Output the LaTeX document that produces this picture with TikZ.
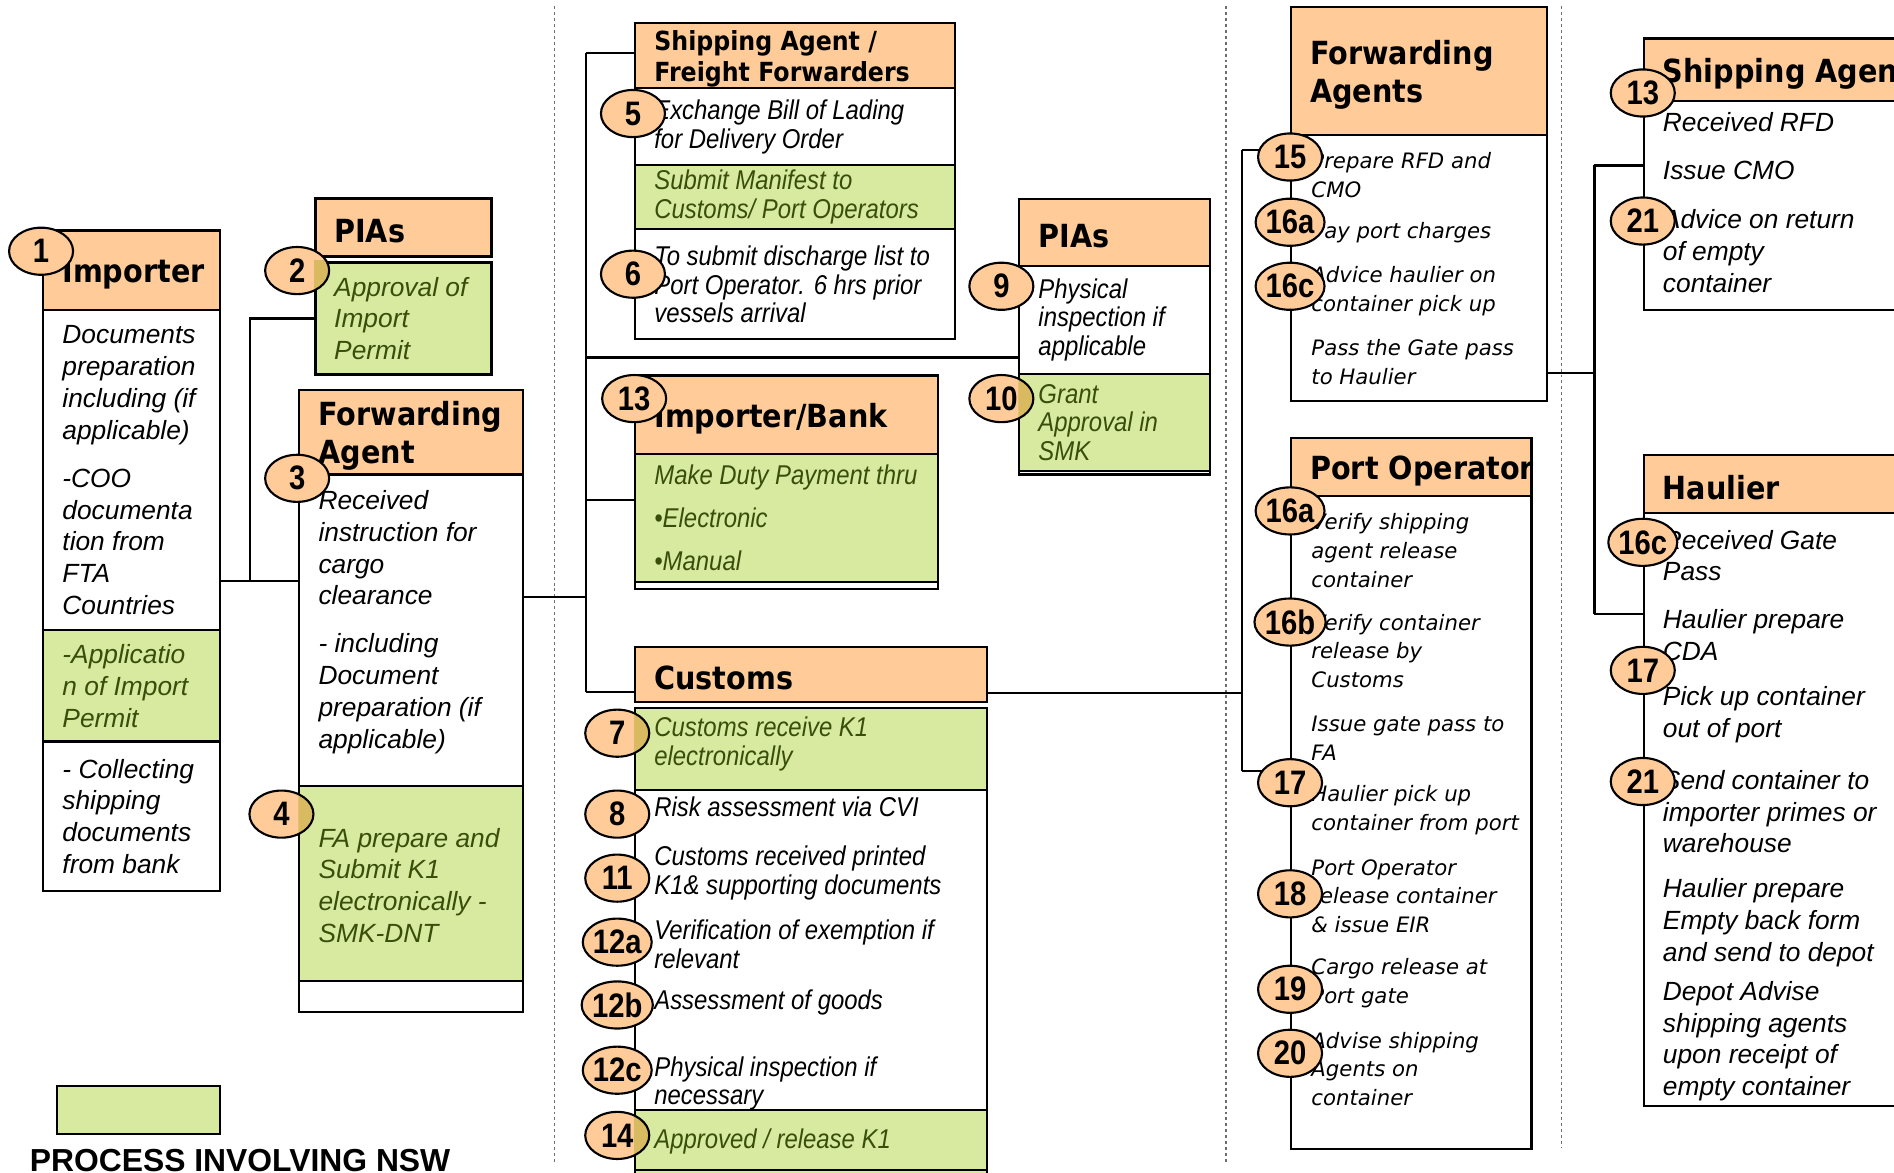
\documentclass[tikz,border=0pt]{standalone}
\usepackage{fontspec}
\setmainfont{Liberation Sans}
\newfontfamily\hdfont[FakeStretch=0.9]{DejaVu Sans}
\newfontfamily\widefont{DejaVu Sans}
\newfontfamily\narrowfont[FakeStretch=0.88]{Liberation Sans}
\newfontfamily\numfont[FakeStretch=0.86]{Liberation Sans}
\usepackage{tikz}
\usetikzlibrary{positioning,shapes.geometric}
\definecolor{hdrorange}{RGB}{255,204,153}
\definecolor{nswgreen}{RGB}{216,234,160}
\definecolor{nswtext}{RGB}{58,78,12}
\definecolor{sepgray}{RGB}{110,110,110}
\newcommand\bodytext{\fontsize{6.2}{7.5}\selectfont\itshape}
\newcommand\narrowtext{\narrowfont\fontsize{6.4}{6.8}\selectfont\itshape}
\newcommand\widetext{\widefont\fontsize{5}{6.8}\selectfont\itshape}

\begin{document}
\begin{tikzpicture}[x=1cm, y=-1cm,
        box/.style={rectangle, draw, fill=white, anchor=north west, inner sep=0pt, line width=0.5pt},
        hdr/.style={box, fill=hdrorange},
        nsw/.style={box, fill=nswgreen},
        hdrtext/.style={inner sep=0pt, align=left, yshift=-0.03cm, font=\hdfont\bfseries\fontsize{7.5}{9.1}\selectfont},
        item/.style={anchor=west, inner sep=0pt, align=left, font=\bodytext},
        nswitem/.style={item, text=nswtext},
        num/.style={ellipse, draw, fill=hdrorange, minimum width=0.53cm, minimum height=0.39cm,
                    inner sep=0pt, line width=0.5pt, font=\numfont\bfseries\fontsize{8}{8}\selectfont},
        overlap/.style={fill=nswgreen, blend mode=multiply},
        link/.style={line width=0.5pt},
        sep/.style={draw=sepgray, line width=0.3pt, dash pattern=on 0.7pt off 0.7pt}
    ]
        \useasboundingbox (0,0) rectangle (15.68,9.71);
        \clip (0,0) rectangle (15.68,9.71);

        % Dotted column separators
        \draw[sep] (4.59,0.05) -- (4.59,9.62);
        \draw[sep] (10.15,0.05) -- (10.15,9.62);
        \draw[sep] (12.93,0.05) -- (12.93,9.50);

        % Importer
        \node[hdr, minimum width=1.46cm, minimum height=0.66cm] (imp) at (0.35,1.90) {};
        \node[hdrtext, right=0.16cm of imp.west] (imp-t) {Importer};
        \node[box, minimum width=1.46cm, minimum height=2.65cm] (imp-a) at (0.35,2.56) {};
        \node[item, right=0.16cm of imp-a.west] (imp-a-t) {Documents\\preparation\\including (if\\applicable)\\[3.8pt]-COO\\documenta\\tion from\\FTA\\Countries};
        \node[nsw, minimum width=1.46cm, minimum height=0.92cm] (imp-b) at (0.35,5.21) {};
        \node[nswitem, right=0.16cm of imp-b.west] (imp-b-t) {-Applicatio\\n of Import\\Permit};
        \node[box, minimum width=1.46cm, minimum height=1.24cm] (imp-c) at (0.35,6.13) {};
        \node[item, right=0.16cm of imp-c.west] (imp-c-t) {- Collecting\\shipping\\documents\\from bank};

        % PIAs (approval)
        \node[hdr, line width=0.7pt, minimum width=1.46cm, minimum height=0.48cm] (pia1) at (2.60,1.63) {};
        \node[hdrtext, right=0.16cm of pia1.west] (pia1-t) {PIAs};
        \node[nsw, line width=0.7pt, minimum width=1.46cm, minimum height=0.93cm] (pia1-a) at (2.60,2.16) {};
        \node[nswitem, right=0.16cm of pia1-a.west] (pia1-a-t) {Approval of\\Import\\Permit};

        % Forwarding Agent
        \node[hdr, minimum width=1.85cm, minimum height=0.70cm] (fa) at (2.47,3.22) {};
        \node[hdrtext, right=0.16cm of fa.west] (fa-t) {Forwarding\\Agent};
        \node[box, minimum width=1.85cm, minimum height=2.58cm] (fa-a) at (2.47,3.92) {};
        \node[item] (fa-a-t) at (2.63,5.15) {Received\\instruction for\\cargo\\clearance\\[3.8pt]- including\\Document\\preparation (if\\applicable)};
        \node[nsw, minimum width=1.85cm, minimum height=1.61cm] (fa-b) at (2.47,6.50) {};
        \node[nswitem] (fa-b-t) at (2.63,7.33) {FA prepare and\\Submit K1\\electronically -\\SMK-DNT};
        \node[box, minimum width=1.85cm, minimum height=0.26cm] (fa-c) at (2.47,8.11) {};

        % Shipping Agent / Freight Forwarders
        \node[hdr, minimum width=2.65cm, minimum height=0.54cm] (sa) at (5.25,0.18) {};
        \node[hdrtext, font=\hdfont\bfseries\fontsize{6.2}{7.4}\selectfont, right=0.16cm of sa.west] (sa-t) {Shipping Agent /\\Freight Forwarders};
        \node[box, minimum width=2.65cm, minimum height=0.64cm] (sa-a) at (5.25,0.72) {};
        \node[item, font=\narrowtext, right=0.16cm of sa-a.west] (sa-a-t) {Exchange Bill of Lading\\for Delivery Order};
        \node[nsw, minimum width=2.65cm, minimum height=0.53cm] (sa-b) at (5.25,1.36) {};
        \node[nswitem, font=\narrowtext, right=0.16cm of sa-b.west] (sa-b-t) {Submit Manifest to\\Customs/ Port Operators};
        \node[box, minimum width=2.65cm, minimum height=0.91cm] (sa-c) at (5.25,1.89) {};
        \node[item, font=\narrowtext, right=0.16cm of sa-c.west] (sa-c-t) {To submit discharge list to\\Port Operator. 6 hrs prior\\vessels arrival};

        % Importer/Bank
        \node[hdr, minimum width=2.51cm, minimum height=0.65cm] (ib) at (5.25,3.10) {};
        \node[hdrtext, right=0.16cm of ib.west] (ib-t) {Importer/Bank};
        \node[nsw, minimum width=2.51cm, minimum height=1.06cm] (ib-a) at (5.25,3.75) {};
        \node[nswitem, font=\narrowtext, right=0.16cm of ib-a.west] (ib-a-t) {Make Duty Payment thru\\[3.3pt]\textbullet Electronic\\[3.3pt]\textbullet Manual};
        \node[box, minimum width=2.51cm, minimum height=0.06cm] (ib-b) at (5.25,4.81) {};

        % Customs
        \node[hdr, minimum width=2.91cm, minimum height=0.45cm] (cu) at (5.25,5.35) {};
        \node[hdrtext, right=0.16cm of cu.west] (cu-t) {Customs};
        \node[nsw, minimum width=2.91cm, minimum height=0.68cm] (cu-a) at (5.25,5.85) {};
        \node[nswitem, font=\narrowtext] (cu-a-t) at (5.41,6.16) {Customs receive K1\\electronically};
        \node[box, minimum width=2.91cm, minimum height=2.65cm] (cu-b) at (5.25,6.53) {};
        \node[item, font=\narrowtext] (cu-risk) at (5.41,6.68) {Risk assessment via CVI};
        \node[item, font=\narrowtext] (cu-print) at (5.41,7.23) {Customs received printed\\K1\& supporting documents};
        \node[item, font=\narrowtext] (cu-exempt) at (5.41,7.82) {Verification of exemption if\\relevant};
        \node[item, font=\narrowtext] (cu-assess) at (5.41,8.30) {Assessment of goods};
        \node[item, font=\narrowtext] (cu-phys) at (5.41,8.97) {Physical inspection if\\necessary};
        \node[nsw, minimum width=2.91cm, minimum height=0.50cm] (cu-c) at (5.25,9.18) {};
        \node[nswitem, font=\narrowtext] (cu-c-t) at (5.41,9.45) {Approved / release K1};
        \node[nsw, minimum width=2.91cm, minimum height=0.30cm] (cu-d) at (5.25,9.68) {};

        % PIAs (inspection)
        \node[hdr, minimum width=1.58cm, minimum height=0.55cm] (pia2) at (8.43,1.64) {};
        \node[hdrtext, right=0.16cm of pia2.west] (pia2-t) {PIAs};
        \node[box, minimum width=1.58cm, minimum height=0.90cm] (pia2-a) at (8.43,2.19) {};
        \node[item, font=\narrowtext, right=0.16cm of pia2-a.west] (pia2-a-t) {Physical\\inspection if\\applicable};
        \node[nsw, minimum width=1.58cm, minimum height=0.80cm] (pia2-b) at (8.43,3.09) {};
        \node[nswitem, font=\narrowtext, right=0.16cm of pia2-b.west] (pia2-b-t) {Grant\\Approval in\\SMK};
        \node[box, minimum width=1.58cm, minimum height=0.03cm] (pia2-c) at (8.43,3.89) {};

        % Forwarding Agents
        \node[hdr, minimum width=2.12cm, minimum height=1.06cm] (fas) at (10.68,0.05) {};
        \node[hdrtext, right=0.16cm of fas.west] (fas-t) {Forwarding\\Agents};
        \node[box, minimum width=2.12cm, minimum height=2.20cm] (fas-a) at (10.68,1.11) {};
        \node[item, font=\widetext] (fas-rfd) at (10.85,1.45) {Prepare RFD and\\CMO};
        \node[item, font=\widetext] (fas-pay) at (10.85,1.93) {Pay port charges};
        \node[item, font=\widetext] (fas-adv) at (10.85,2.41) {Advice haulier on\\container pick up};
        \node[item, font=\widetext] (fas-gate) at (10.85,3.00) {Pass the Gate pass\\to Haulier};

        % Port Operator
        \node[hdr, minimum width=1.99cm, minimum height=0.48cm] (po) at (10.68,3.62) {};
        \node[hdrtext, right=0.16cm of po.west] (po-t) {Port Operator};
        \node[box, minimum width=1.99cm, minimum height=5.40cm] (po-a) at (10.68,4.10) {};
        \node[item, font=\widetext] (po-ship) at (10.85,4.56) {Verify shipping\\agent release\\container};
        \node[item, font=\widetext] (po-cust) at (10.85,5.39) {Verify container\\release by\\Customs};
        \node[item, font=\widetext] (po-gate) at (10.85,6.11) {Issue gate pass to\\FA};
        \node[item, font=\widetext] (po-pick) at (10.85,6.71) {Haulier pick up\\container from port};
        \node[item, font=\widetext] (po-eir) at (10.85,7.42) {Port Operator\\release container\\\& issue EIR};
        \node[item, font=\widetext] (po-cargo) at (10.85,8.14) {Cargo release at\\Port gate};
        \node[item, font=\widetext] (po-advise) at (10.85,8.85) {Advise shipping\\Agents on\\container};

        % Shipping Agent
        \node[hdr, minimum width=2.40cm, minimum height=0.52cm] (sr) at (13.60,0.31) {};
        \node[hdrtext, right=0.16cm of sr.west] (sr-t) {Shipping Agent};
        \node[box, minimum width=2.40cm, minimum height=1.73cm] (sr-a) at (13.60,0.83) {};
        \node[item] (sr-rfd) at (13.76,1.01) {Received RFD};
        \node[item] (sr-cmo) at (13.76,1.41) {Issue CMO};
        \node[item] (sr-empty) at (13.76,2.08) {Advice on return\\of empty\\container};

        % Haulier
        \node[hdr, minimum width=2.40cm, minimum height=0.48cm] (ha) at (13.60,3.76) {};
        \node[hdrtext, right=0.16cm of ha.west] (ha-t) {Haulier};
        \node[box, minimum width=2.40cm, minimum height=4.91cm] (ha-a) at (13.60,4.24) {};
        \node[item] (ha-gate) at (13.76,4.60) {Received Gate\\Pass};
        \node[item] (ha-cda) at (13.76,5.26) {Haulier prepare\\CDA};
        \node[item] (ha-pick) at (13.76,5.92) {Pick up container\\out of port};
        \node[item] (ha-send) at (13.76,6.72) {Send container to\\importer primes or\\warehouse};
        \node[item] (ha-empty) at (13.76,7.64) {Haulier prepare\\Empty back form\\and send to depot};
        \node[item] (ha-depot) at (13.76,8.62) {Depot Advise\\shipping agents\\upon receipt of\\empty container};

        % Legend
        \node[nsw, minimum width=1.35cm, minimum height=0.40cm] (legend) at (0.46,8.98) {};
        \node[anchor=base west, inner sep=0pt, font=\bfseries\fontsize{7.5}{9}\selectfont] (legend-t) at (0.24,9.70) {PROCESS INVOLVING NSW};

        % Importer to PIAs and Forwarding Agent
        \coordinate (j-imp) at (2.07,4.81);
        \draw[link] (imp-a.east |- j-imp) -- (j-imp) |- (pia1-a.west);
        \draw[link] (j-imp) -- (fa-a.west |- j-imp);

        % Forwarding Agent to the agencies
        \coordinate (bus-sa) at (4.85,0.44);
        \coordinate (bus-pia) at (4.85,2.96);
        \coordinate (bus-ib) at (4.85,4.14);
        \coordinate (bus-fa) at (4.85,4.94);
        \coordinate (bus-cu) at (4.85,5.73);
        \draw[link] (bus-sa) -- (bus-cu);
        \draw[link] (fa-a.east |- bus-fa) -- (bus-fa);
        \draw[link] (bus-sa) -- (sa.west |- bus-sa);
        \draw[link] (bus-pia) -- (pia2-a.west |- bus-pia);
        \draw[link] (bus-ib) -- (ib-a.west |- bus-ib);
        \draw[link] (bus-cu) -- (cu.west |- bus-cu);

        % Customs to Forwarding Agents and Port Operator
        \coordinate (bus2-top) at (10.28,1.24);
        \coordinate (bus2-cu) at (10.28,5.74);
        \coordinate (bus2-bot) at (10.28,6.38);
        \draw[link] (bus2-top) -- (bus2-bot);
        \draw[link] (cu.east |- bus2-cu) -- (bus2-cu);
        \draw[link] (bus2-top) -- (fas-a.west |- bus2-top);
        \draw[link] (bus2-bot) -- (po-a.west |- bus2-bot);

        % Forwarding Agents to Shipping Agent and Haulier
        \coordinate (bus3-top) at (13.20,1.37);
        \coordinate (bus3-fa) at (13.20,3.09);
        \coordinate (bus3-bot) at (13.20,5.08);
        \draw[link] (bus3-top) -- (bus3-bot);
        \draw[link] (fas-a.east |- bus3-fa) -- (bus3-fa);
        \draw[link] (bus3-top) -- (sr-a.west |- bus3-top);
        \draw[link] (bus3-bot) -- (ha-a.west |- bus3-bot);

        % Step numbers
        \node[num] (n1) at (0.34,2.08) {1};
        \node[num] (n2) at (2.46,2.24) {2};
        \node[num] (n3) at (2.46,3.96) {3};
        \node[num] (n4) at (2.33,6.74) {4};
        \node[num] (n5) at (5.24,0.94) {5};
        \node[num] (n6) at (5.24,2.27) {6};
        \node[num] (n13a) at (5.25,3.30) {13};
        \node[num] (n7) at (5.11,6.07) {7};
        \node[num] (n8) at (5.11,6.74) {8};
        \node[num] (n11) at (5.11,7.27) {11};
        \node[num] (n12a) at (5.11,7.80) {12a};
        \node[num] (n12b) at (5.11,8.32) {12b};
        \node[num] (n12c) at (5.11,8.86) {12c};
        \node[num] (n14) at (5.11,9.40) {14};
        \node[num] (n9) at (8.29,2.37) {9};
        \node[num] (n10) at (8.29,3.30) {10};
        \node[num] (n15) at (10.68,1.30) {15};
        \node[num] (n16a) at (10.68,1.84) {16a};
        \node[num] (n16c) at (10.68,2.37) {16c};
        \node[num] (n16a-po) at (10.68,4.23) {16a};
        \node[num] (n16b) at (10.68,5.15) {16b};
        \node[num] (n17-po) at (10.68,6.48) {17};
        \node[num] (n18) at (10.68,7.40) {18};
        \node[num] (n19) at (10.68,8.19) {19};
        \node[num] (n20) at (10.68,8.72) {20};
        \node[num] (n13b) at (13.60,0.77) {13};
        \node[num] (n21a) at (13.60,1.83) {21};
        \node[num] (n16c-ha) at (13.60,4.49) {16c};
        \node[num] (n17-ha) at (13.60,5.55) {17};
        \node[num] (n21b) at (13.60,6.47) {21};

        % Green shows through where a number lies on an NSW step
        \begin{scope}
            \clip (pia1-a.north west) rectangle (pia1-a.south east);
            \fill[overlap] (n2) ellipse [x radius=0.265cm, y radius=0.195cm];
        \end{scope}
        \begin{scope}
            \clip (fa-b.north west) rectangle (fa-b.south east);
            \fill[overlap] (n4) ellipse [x radius=0.265cm, y radius=0.195cm];
        \end{scope}
        \begin{scope}
            \clip (cu-a.north west) rectangle (cu-a.south east);
            \fill[overlap] (n7) ellipse [x radius=0.265cm, y radius=0.195cm];
        \end{scope}
        \begin{scope}
            \clip (cu-c.north west) rectangle (cu-c.south east);
            \fill[overlap] (n14) ellipse [x radius=0.265cm, y radius=0.195cm];
        \end{scope}
        \begin{scope}
            \clip (pia2-b.north west) rectangle (pia2-b.south east);
            \fill[overlap] (n10) ellipse [x radius=0.265cm, y radius=0.195cm];
        \end{scope}
    \end{tikzpicture}
\end{document}
